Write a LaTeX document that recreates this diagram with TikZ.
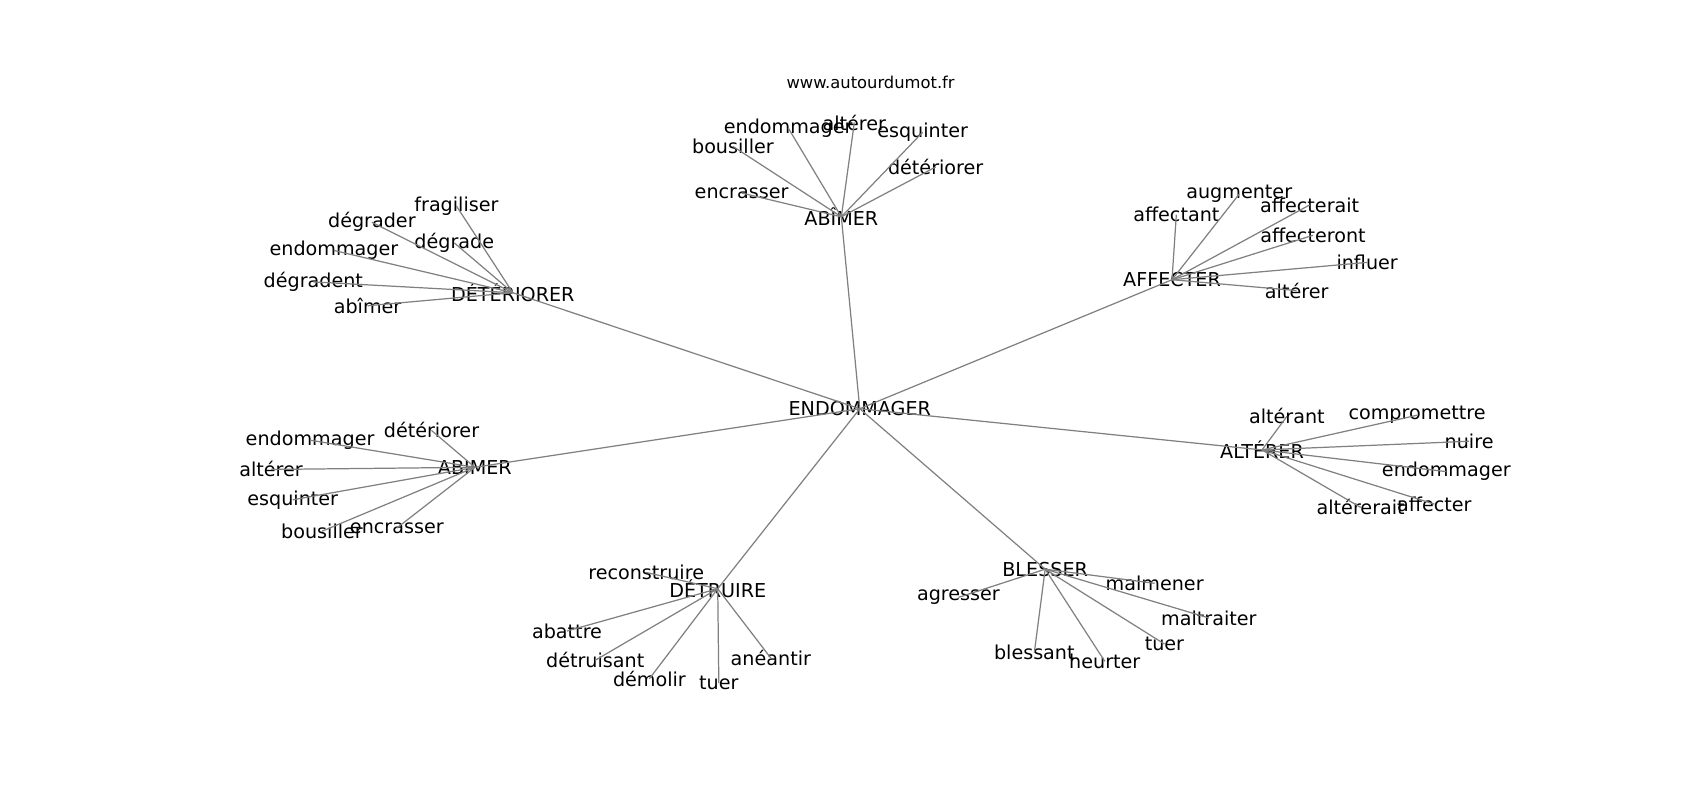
\documentclass[tikz,border=0pt]{standalone}
\usepackage{fontspec}
\setmainfont{DejaVu Sans}
\usepackage{tikz}
\usetikzlibrary{calc}
\usetikzlibrary{arrows}
\usetikzlibrary{arrows.meta}
\usetikzlibrary{positioning}
\tikzset{>=latex}
\tikzstyle{word} = [draw=none, inner sep = 0, font=\fontsize{10.9}{12}\selectfont]
\tikzstyle{syn} = [-, draw = gray, line width = 0.7pt]

\begin{document}
\begin{tikzpicture}[x=0.021684cm, y=-0.021684cm]
\useasboundingbox (0, 0) rectangle (1568, 737);
\node [draw=none, inner sep = 0, font=\fontsize{9.3}{11}\selectfont] (W) at (803, 76) {www.autourdumot.fr};
% centre
\node [word] (E) at (793, 377) {ENDOMMAGER};
% hubs
\node [word] (H1) at (776, 200) {ABÎMER};
\node [word] (H2) at (473, 270) {DÉTÉRIORER};
\node [word] (H3) at (1081, 258) {AFFECTER};
\node [word] (H4) at (438, 431) {ABIMER};
\node [word] (H5) at (1164, 415) {ALTÉRER};
\node [word] (H6) at (662, 543) {DÉTRUIRE};
\node [word] (H7) at (964, 525) {BLESSER};
% ABÎMER
\node [word] (A1) at (727, 118) {endommager};
\node [word] (A2) at (788, 113) {altérer};
\node [word] (A3) at (851, 122) {esquinter};
\node [word] (A4) at (676, 135) {bousiller};
\node [word] (A5) at (863, 154) {détériorer};
\node [word] (A6) at (684, 178) {encrasser};
% DÉTÉRIORER
\node [word] (B1) at (421, 190) {fragiliser};
\node [word] (B2) at (343, 205) {dégrader};
\node [word] (B3) at (419, 224) {dégrade};
\node [word] (B4) at (308, 231) {endommager};
\node [word] (B5) at (289, 260) {dégradent};
\node [word] (B6) at (339, 282) {abîmer};
% AFFECTER
\node [word] (C1) at (1143, 179) {augmenter};
\node [word] (C2) at (1085, 198) {affectant};
\node [word] (C3) at (1208, 189) {affecterait};
\node [word] (C4) at (1211, 217) {affecteront};
\node [word] (C5) at (1261, 242) {influer};
\node [word] (C6) at (1196, 268) {altérer};
% ABIMER
\node [word] (D1) at (398, 397) {détériorer};
\node [word] (D2) at (286, 406) {endommager};
\node [word] (D3) at (250, 433) {altérer};
\node [word] (D4) at (270, 461) {esquinter};
\node [word] (D5) at (297, 490) {bousiller};
\node [word] (D6) at (366, 487) {encrasser};
% ALTÉRER
\node [word] (F1) at (1187, 384) {altérant};
\node [word] (F2) at (1307, 383) {compromettre};
\node [word] (F3) at (1355, 407) {nuire};
\node [word] (F4) at (1334, 435) {endommager};
\node [word] (F5) at (1255, 468) {altérerait};
\node [word] (F6) at (1323, 465) {affecter};
% DÉTRUIRE
\node [word] (G1) at (596, 528) {reconstruire};
\node [word] (G2) at (523, 582) {abattre};
\node [word] (G3) at (549, 609) {détruisant};
\node [word] (G4) at (599, 626) {démolir};
\node [word] (G5) at (663, 630) {tuer};
\node [word] (G6) at (711, 607) {anéantir};
% BLESSER
\node [word] (K1) at (884, 551) {agresser};
\node [word] (K2) at (1065, 538) {malmener};
\node [word] (K3) at (1115, 570) {maltraiter};
\node [word] (K4) at (954, 602) {blessant};
\node [word] (K5) at (1019, 610) {heurter};
\node [word] (K6) at (1074, 594) {tuer};
% links
\draw [syn] (E.center) to (H1.center);
\draw [syn] (E.center) to (H2.center);
\draw [syn] (E.center) to (H3.center);
\draw [syn] (E.center) to (H4.center);
\draw [syn] (E.center) to (H5.center);
\draw [syn] (E.center) to (H6.center);
\draw [syn] (E.center) to (H7.center);
\draw [syn] (H1.center) to (A1.center);
\draw [syn] (H1.center) to (A2.center);
\draw [syn] (H1.center) to (A3.center);
\draw [syn] (H1.center) to (A4.center);
\draw [syn] (H1.center) to (A5.center);
\draw [syn] (H1.center) to (A6.center);
\draw [syn] (H2.center) to (B1.center);
\draw [syn] (H2.center) to (B2.center);
\draw [syn] (H2.center) to (B3.center);
\draw [syn] (H2.center) to (B4.center);
\draw [syn] (H2.center) to (B5.center);
\draw [syn] (H2.center) to (B6.center);
\draw [syn] (H3.center) to (C1.center);
\draw [syn] (H3.center) to (C2.center);
\draw [syn] (H3.center) to (C3.center);
\draw [syn] (H3.center) to (C4.center);
\draw [syn] (H3.center) to (C5.center);
\draw [syn] (H3.center) to (C6.center);
\draw [syn] (H4.center) to (D1.center);
\draw [syn] (H4.center) to (D2.center);
\draw [syn] (H4.center) to (D3.center);
\draw [syn] (H4.center) to (D4.center);
\draw [syn] (H4.center) to (D5.center);
\draw [syn] (H4.center) to (D6.center);
\draw [syn] (H5.center) to (F1.center);
\draw [syn] (H5.center) to (F2.center);
\draw [syn] (H5.center) to (F3.center);
\draw [syn] (H5.center) to (F4.center);
\draw [syn] (H5.center) to (F5.center);
\draw [syn] (H5.center) to (F6.center);
\draw [syn] (H6.center) to (G1.center);
\draw [syn] (H6.center) to (G2.center);
\draw [syn] (H6.center) to (G3.center);
\draw [syn] (H6.center) to (G4.center);
\draw [syn] (H6.center) to (G5.center);
\draw [syn] (H6.center) to (G6.center);
\draw [syn] (H7.center) to (K1.center);
\draw [syn] (H7.center) to (K2.center);
\draw [syn] (H7.center) to (K3.center);
\draw [syn] (H7.center) to (K4.center);
\draw [syn] (H7.center) to (K5.center);
\draw [syn] (H7.center) to (K6.center);
\end{tikzpicture}
\end{document}
